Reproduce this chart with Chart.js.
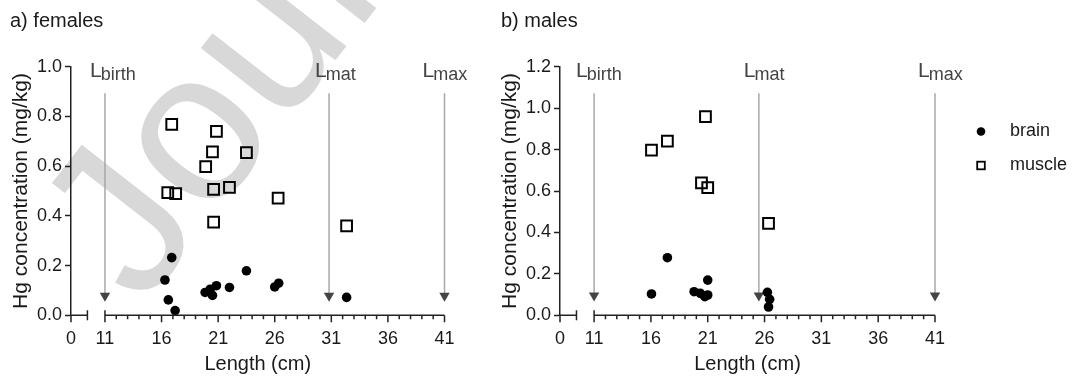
<!DOCTYPE html>
<html>
<head>
<meta charset="utf-8">
<script src="https://cdn.jsdelivr.net/npm/chart.js@4.4.0/dist/chart.umd.min.js"></script>
<style>
  body { margin: 0; background: #fff; width: 1073px; height: 376px; overflow: hidden; position: relative; }
  canvas { position: absolute; top: 0; }
  #females { left: 0; }
  #males { left: 489px; }
</style>
</head>
<body>
<canvas id="females" width="480" height="376"></canvas>
<canvas id="males" width="584" height="376"></canvas>
<script>
// ---- data ----
// a) females
const femaleBrainLen = [16.9, 23.5, 16.3, 16.6, 17.2, 19.85, 20.3, 20.85, 20.5, 22.0, 26.0, 26.35, 32.35];
const femaleBrainHg  = [0.232, 0.179, 0.142, 0.062, 0.019, 0.092, 0.105, 0.119, 0.08, 0.112, 0.114, 0.129, 0.072];
const femaleMuscleLen = [16.9, 20.85, 20.5, 23.5, 19.9, 16.55, 17.25, 20.6, 22.0, 26.3, 20.6, 32.35];
const femaleMuscleHg  = [0.768, 0.740, 0.657, 0.654, 0.598, 0.493, 0.489, 0.507, 0.515, 0.471, 0.375, 0.360];
// b) males
const maleBrainLen = [17.45, 16.05, 19.8, 20.35, 20.75, 21.0, 21.0, 26.25, 26.45, 26.35];
const maleBrainHg  = [0.278, 0.103, 0.114, 0.106, 0.090, 0.098, 0.170, 0.111, 0.077, 0.040];
const maleMuscleLen = [16.05, 17.45, 20.8, 20.45, 21.0, 26.35];
const maleMuscleHg  = [0.797, 0.841, 0.959, 0.639, 0.616, 0.444];

// reference lengths (arrows): birth, maturity, max
const refNames = ['birth', 'mat', 'max'];
const femaleRefLen = [11, 30.8, 41];
const maleRefLen = [11, 25.5, 41];

// axis ticks (x axis is broken between 0 and 11)
const xTickLabels = [0, 11, 16, 21, 26, 31, 36, 41];
const xAxisStart = 8;     // where the "0" sits on the compressed scale
const xBreakEnd = 9.45;   // end of the short first segment

Chart.defaults.font.family = "'Liberation Sans', Arial, sans-serif";
Chart.defaults.color = '#1a1a1a';

function pts(xs, ys) {
  return xs.map((x, i) => ({ x: x, y: ys[i] }));
}

// draws the broken x axis, arrow labels, panel title, legend, watermark
const panelDecor = {
  id: 'panelDecor',
  beforeDraw(chart, args, o) {
    if (!o.watermark) return;
    const ctx = chart.ctx;
    ctx.save();
    ctx.translate(o.watermark.x, o.watermark.y);
    ctx.rotate(o.watermark.angle * Math.PI / 180);
    ctx.font = o.watermark.size + "px 'Liberation Sans', Arial, sans-serif";
    ctx.fillStyle = '#d8d8d8';
    ctx.textBaseline = 'alphabetic';
    ctx.fillText('Journal Pre-proof', 0, 0);
    ctx.restore();
  },
  afterDraw(chart, args, o) {
    const ctx = chart.ctx;
    const xs = chart.scales.x, ys = chart.scales.y;
    const px = v => xs.getPixelForValue(v);
    const y0 = ys.getPixelForValue(0);
    ctx.save();

    // broken x axis
    ctx.strokeStyle = '#222';
    ctx.lineWidth = 1.5;
    ctx.beginPath();
    ctx.moveTo(px(xAxisStart), y0); ctx.lineTo(px(xBreakEnd), y0);
    ctx.moveTo(px(xAxisStart), y0); ctx.lineTo(px(xAxisStart), y0 + 7);
    ctx.moveTo(px(xBreakEnd), y0 - 5); ctx.lineTo(px(xBreakEnd), y0 + 5);
    ctx.moveTo(px(11), y0); ctx.lineTo(px(41), y0);
    ctx.moveTo(px(11), y0 - 5); ctx.lineTo(px(11), y0 + 7);
    for (let v = 12; v <= 41; v++) {
      const len = (v - 11) % 5 === 0 ? 7 : 4;
      ctx.moveTo(px(v), y0); ctx.lineTo(px(v), y0 + len);
    }
    ctx.stroke();

    // L labels above the arrows
    ctx.fillStyle = '#444';
    ctx.textBaseline = 'alphabetic';
    o.refLen.forEach((L, i) => {
      const x = px(L) + o.labelOffset[i];
      ctx.font = "21px 'Liberation Sans', Arial, sans-serif";
      ctx.fillText('L', x, 76.5);
      const w = ctx.measureText('L').width;
      ctx.font = "18px 'Liberation Sans', Arial, sans-serif";
      ctx.fillText(refNames[i], x + w - 1, 80);
    });

    // panel title
    ctx.fillStyle = '#1a1a1a';
    ctx.font = "20px 'Liberation Sans', Arial, sans-serif";
    ctx.textBaseline = 'middle';
    ctx.fillText(o.title, o.titleX, 21);

    // legend
    if (o.legend) {
      const lx = o.legend.x;
      ctx.font = "18px 'Liberation Sans', Arial, sans-serif";
      ctx.fillStyle = '#000';
      ctx.beginPath();
      ctx.arc(lx, 131.5, 4.3, 0, Math.PI * 2);
      ctx.fill();
      ctx.strokeStyle = '#000';
      ctx.lineWidth = 1.8;
      ctx.strokeRect(lx - 3.8, 165.5 - 3.8, 7.6, 7.6);
      ctx.fillStyle = '#1a1a1a';
      ctx.fillText('brain', lx + 29, 131.5);
      ctx.fillText('muscle', lx + 29, 165.5);
    }
    ctx.restore();
  }
};

function makePanel(id, p) {
  const arrows = p.refLen.map(L => ({
    data: [{ x: L, y: p.arrowTop }, { x: L, y: p.arrowTip }],
    showLine: true,
    clip: false,
    borderColor: '#a8a8a8',
    borderWidth: 1.5,
    pointStyle: 'triangle',
    rotation: 180,
    pointRadius: [0, 6],
    pointBackgroundColor: '#444',
    pointBorderWidth: 0,
    order: 3
  }));

  new Chart(document.getElementById(id), {
    type: 'scatter',
    data: {
      datasets: [
        {
          label: 'brain',
          data: pts(p.brainLen, p.brainHg),
          pointStyle: 'circle',
          pointRadius: 4.8,
          backgroundColor: '#000',
          borderWidth: 0,
          clip: false,
          order: 1
        },
        {
          label: 'muscle',
          data: pts(p.muscleLen, p.muscleHg),
          pointStyle: 'rect',
          pointRadius: 7.6,
          backgroundColor: 'rgba(0,0,0,0)',
          borderColor: '#000',
          borderWidth: 2,
          clip: false,
          order: 2
        }
      ].concat(arrows)
    },
    options: {
      responsive: false,
      animation: false,
      devicePixelRatio: 1,
      events: [],
      layout: { padding: { left: 0, top: 66.7, right: p.padRight, bottom: 0 } },
      plugins: {
        legend: { display: false },
        tooltip: { enabled: false },
        panelDecor: {
          title: p.title, titleX: p.titleX, refLen: p.refLen,
          labelOffset: p.labelOffset, legend: p.legend, watermark: p.watermark
        }
      },
      scales: {
        x: {
          type: 'linear',
          min: xAxisStart,
          max: 41,
          afterBuildTicks: s => {
            s.ticks = xTickLabels.map((v, i) => ({ value: i === 0 ? xAxisStart : v }));
          },
          afterFit: s => { s.height = 376 - 315.3; },
          grid: { display: false },
          border: { display: false },
          ticks: {
            autoSkip: false,
            maxRotation: 0,
            padding: 5,
            font: { size: 18 },
            color: '#1a1a1a',
            callback: (v, i) => String(xTickLabels[i])
          },
          title: {
            display: true,
            text: 'Length (cm)',
            font: { size: 20 },
            color: '#1a1a1a',
            padding: { top: 0, bottom: 0 }
          }
        },
        y: {
          min: 0,
          max: p.yMax,
          afterFit: s => { s.width = 71; },
          grid: { drawOnChartArea: false, drawTicks: true, tickLength: 6, tickWidth: 1.5, tickColor: '#222' },
          border: { display: true, color: '#222', width: 1.5 },
          ticks: {
            stepSize: 0.2,
            padding: 3,
            font: { size: 18 },
            color: '#1a1a1a',
            callback: v => v.toFixed(1)
          },
          title: {
            display: true,
            text: 'Hg concentration (mg/kg)',
            font: { size: 21 },
            color: '#1a1a1a',
            padding: { top: 9, bottom: 0 }
          }
        }
      }
    },
    plugins: [panelDecor]
  });
}

makePanel('females', {
  title: 'a) females', titleX: 10,
  brainLen: femaleBrainLen, brainHg: femaleBrainHg,
  muscleLen: femaleMuscleLen, muscleHg: femaleMuscleHg,
  refLen: femaleRefLen, labelOffset: [-15, -14, -22],
  arrowTop: 0.893, arrowTip: 0.079,
  yMax: 1.0, padRight: 480 - 444.5,
  watermark: { x: 142, y: 308, angle: -52, size: 215 }
});

makePanel('males', {
  title: 'b) males', titleX: 12,
  brainLen: maleBrainLen, brainHg: maleBrainHg,
  muscleLen: maleMuscleLen, muscleHg: maleMuscleHg,
  refLen: maleRefLen, labelOffset: [-18, -15, -17],
  arrowTop: 1.072, arrowTip: 0.095,
  yMax: 1.2, padRight: 584 - 446,
  legend: { x: 492 }
});
</script>
</body>
</html>
